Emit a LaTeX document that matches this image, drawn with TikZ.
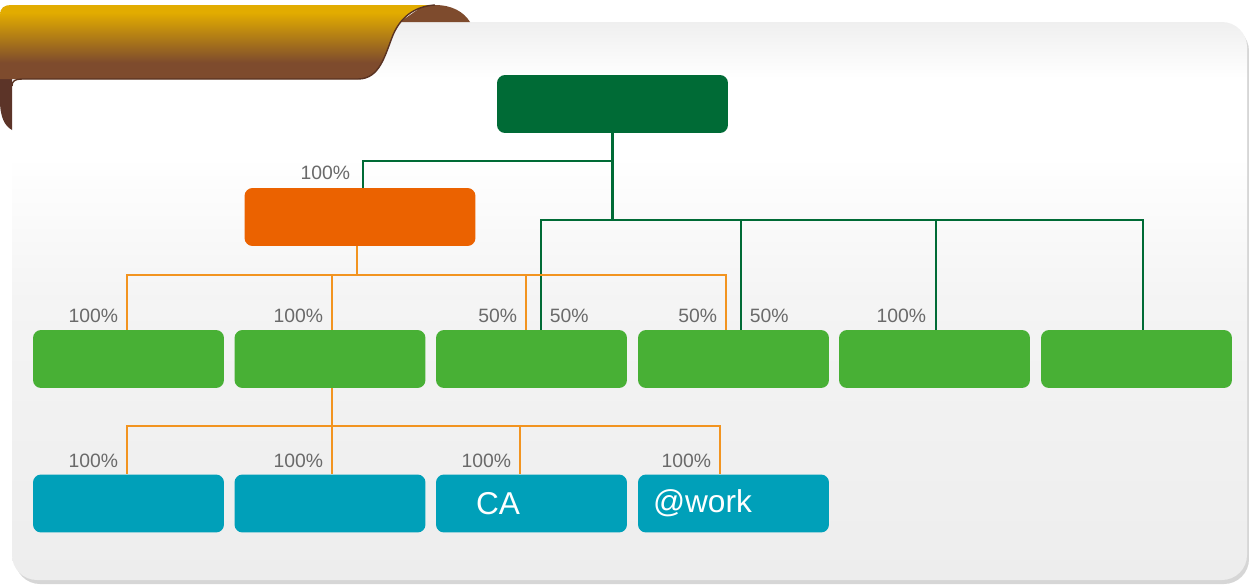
\documentclass[tikz,border=0pt]{standalone}
\usepackage{fontspec}
\setmainfont{Liberation Sans}
\usepackage{xcolor}
\usetikzlibrary{calc}

\definecolor{topgreen}{HTML}{006B36}
\definecolor{boxorange}{HTML}{EB6200}
\definecolor{linorange}{HTML}{F29420}
\definecolor{boxgreen}{HTML}{48B035}
\definecolor{boxblue}{HTML}{00A0B9}
\definecolor{pctgray}{HTML}{6A6A6A}
\definecolor{tabgold}{HTML}{E2AC00}
\definecolor{tabbrown}{HTML}{7E4B2D}
\definecolor{tabedge}{HTML}{5A3322}
\definecolor{curlbrown}{HTML}{5C3428}
\definecolor{paneltop}{HTML}{EFEFEF}
\definecolor{panelmid}{HTML}{F4F4F4}
\definecolor{panelgray}{HTML}{EDEDED}

\pgfdeclareverticalshading{tabshade}{100bp}{color(0bp)=(tabbrown); color(36bp)=(tabbrown); color(70bp)=(tabgold); color(100bp)=(tabgold)}
\pgfdeclareverticalshading{panelshade}{100bp}{color(0bp)=(panelgray); color(25bp)=(panelgray); color(50bp)=(panelmid); color(63bp)=(white); color(70bp)=(white); color(75bp)=(paneltop); color(100bp)=(paneltop)}

\begin{document}
\begin{tikzpicture}[x=0.02cm, y=-0.02cm,
  box/.style={rounded corners=0.16cm, minimum width=3.82cm, minimum height=1.16cm, inner sep=0pt},
  widebox/.style={box, minimum width=4.62cm},
  txtbox/.style={box, text=white, font=\fontsize{18}{20}\selectfont, align=left, text width=3.22cm, inner xsep=0.3cm},
  pct/.style={text=pctgray, font=\fontsize{11}{13}\selectfont, inner sep=2pt},
  dgline/.style={topgreen, line width=1.2pt},
  orline/.style={linorange, line width=1.2pt}]
\useasboundingbox (0,0) rectangle (1249,585);

% panel and tab
\fill[black!16, rounded corners=0.5cm] (15,26) rectangle (1249,584);
\shade[shading=panelshade, rounded corners=0.5cm] (12,22) rectangle (1247,580);
\fill[curlbrown] (0,70) -- (0,100) .. controls (0,118) and (5,126) .. (12,130) -- (12,70) -- cycle;
\fill[tabbrown] (400,22) -- (420,8) .. controls (428,5) .. (435,5) .. controls (452,5) and (464,12) .. (470,22) -- cycle;
\shade[shading=tabshade] (0,79) -- (0,15) .. controls (0,8) and (4,5) .. (11,5) -- (435,5) .. controls (418,6) and (402,14) .. (393,35) .. controls (385,55) and (380,79) .. (358,79) -- cycle;
\draw[tabedge, line width=0.8pt] (12,86) .. controls (12,81) and (15,79) .. (22,79) -- (358,79) .. controls (380,79) and (385,55) .. (393,35) .. controls (402,14) and (418,6) .. (435,5);

% boxes
\node[widebox, fill=topgreen] (top) at (612.5,104) {};
\node[widebox, fill=boxorange] (orange) at (360,217) {};
\foreach \i/\x in {1/128.5, 2/330, 3/531.5, 4/733.5, 5/934.5, 6/1136.5}
  \node[box, fill=boxgreen] (g\i) at (\x,359) {};
\node[box, fill=boxblue] (b1) at (128.5,503.5) {};
\node[box, fill=boxblue] (b2) at (330,503.5) {};
\node[txtbox, fill=boxblue] (b3) at (531.5,503.5) {\hspace*{0.5cm}CA};
\node[txtbox, fill=boxblue] (b4) at (733.5,503.5) {@work};

% line ends
\coordinate (j1) at (612.5,161);
\coordinate (j2) at (612.5,220);
\coordinate (j3) at (357,275);
\coordinate (j4) at (332,426);
\coordinate (o1) at ($(g1.north)+(-1.5,0)$);
\coordinate (o2) at ($(g2.north)+(2,0)$);
\coordinate (o3) at ($(g3.north)+(-5.5,0)$);
\coordinate (o4) at ($(g4.north)+(-7.5,0)$);
\coordinate (d3) at ($(g3.north)+(9.5,0)$);
\coordinate (d4) at ($(g4.north)+(7.5,0)$);
\coordinate (d5) at ($(g5.north)+(1.5,0)$);
\coordinate (d6) at ($(g6.north)+(6.5,0)$);
\coordinate (q1) at ($(b1.north)+(-1.5,0)$);
\coordinate (q2) at ($(b2.north)+(2,0)$);
\coordinate (q3) at ($(b3.north)+(-11.5,0)$);
\coordinate (q4) at ($(b4.north)+(-13.5,0)$);

% dark green links
\draw[dgline] (top.south) -- (j2);
\draw[dgline] (j1) -| ($(orange.north)+(3,0)$);
\draw[dgline] (j2) -| (d3);
\draw[dgline] (j2) -| (d4);
\draw[dgline] (j2) -| (d5);
\draw[dgline] (j2) -| (d6);

% orange links
\draw[orline] ($(orange.south)+(-3,0)$) -- (j3);
\draw[orline] (j3) -| (o1);
\draw[orline] (j3) -| (o2);
\draw[orline] (j3) -| (o3);
\draw[orline] (j3) -| (o4);
\draw[orline] ($(g2.south)+(2,0)$) -- (j4);
\draw[orline] (j4) -| (q1);
\draw[orline] (j4) -| (q2);
\draw[orline] (j4) -| (q3);
\draw[orline] (j4) -| (q4);

% shares
\node[pct, anchor=south east] (p0) at ($(orange.north)+(-6,-4)$) {100\%};
\node[pct, anchor=south east] (p1) at ($(o1)+(-5,-3)$) {100\%};
\node[pct, anchor=south east] (p2) at ($(o2)+(-5,-3)$) {100\%};
\node[pct, anchor=south east] (p3) at ($(o3)+(-5,-3)$) {50\%};
\node[pct, anchor=south east] (p4) at ($(o4)+(-5,-3)$) {50\%};
\node[pct, anchor=south west] (p5) at ($(d3)+(5,-3)$) {50\%};
\node[pct, anchor=south west] (p6) at ($(d4)+(5,-3)$) {50\%};
\node[pct, anchor=south east] (p7) at ($(d5)+(-6,-3)$) {100\%};
\node[pct, anchor=south east] (p8) at ($(q1)+(-5,-3)$) {100\%};
\node[pct, anchor=south east] (p9) at ($(q2)+(-5,-3)$) {100\%};
\node[pct, anchor=south east] (p10) at ($(q3)+(-5,-3)$) {100\%};
\node[pct, anchor=south east] (p11) at ($(q4)+(-5,-3)$) {100\%};
\end{tikzpicture}
\end{document}
